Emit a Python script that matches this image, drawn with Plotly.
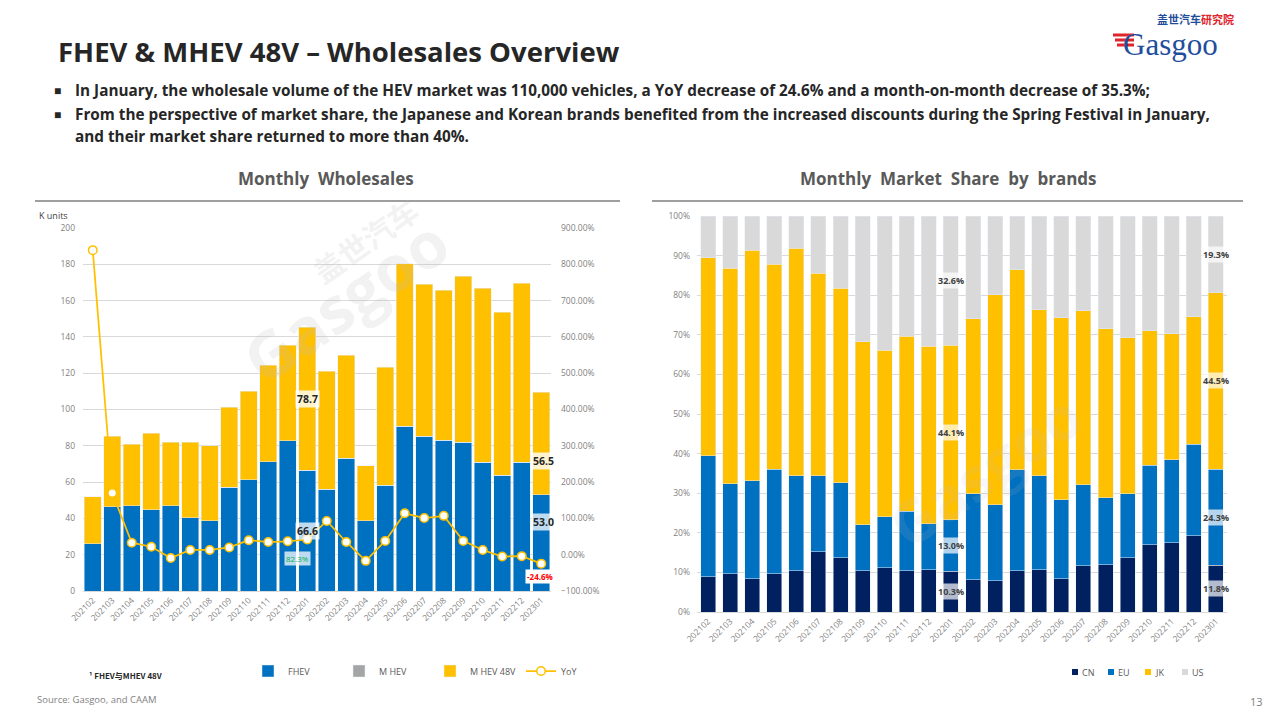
import plotly.graph_objects as go

W, H = 1280, 720
def X(px): return px / W
def Y(py): return 1 - py / H

months = ["202102","202103","202104","202105","202106","202107","202108","202109","202110","202111","202112",
          "202201","202202","202203","202204","202205","202206","202207","202208","202209","202210","202211","202212","202301"]

# Monthly wholesales (K units)
fhev = [26.0, 46.3, 46.9, 44.7, 46.9, 40.3, 38.6, 57.3, 61.2, 71.2, 82.7,
        66.6, 56.2, 73.2, 38.6, 58.4, 90.8, 85.3, 83.1, 82.0, 71.0, 63.9, 71.0, 53.0]
mhev = [0] * len(months)
mhev48 = [25.8, 39.0, 34.0, 42.3, 35.1, 41.7, 41.3, 44.0, 48.9, 53.2, 52.7,
          78.7, 64.9, 56.7, 30.3, 64.9, 89.4, 83.6, 82.5, 91.3, 95.7, 89.7, 98.5, 56.5]
yoy = [839, 170, 33, 22, -9, 13, 13, 20, 40, 35, 37,
       42, 93, 35, -17, 38, 114, 101, 107, 38, 13, -5, -4, -24.6]

# Market share by brands (%)
cn = [8.9, 9.7, 8.4, 9.7, 10.4, 15.2, 13.7, 10.4, 11.2, 10.4, 10.7,
      10.3, 8.2, 7.9, 10.4, 10.7, 8.4, 11.7, 11.9, 13.7, 17.0, 17.5, 19.2, 11.8]
eu = [30.5, 22.7, 24.7, 26.4, 24.0, 19.2, 18.9, 11.6, 12.8, 15.1, 11.6,
      13.0, 21.6, 19.2, 25.5, 23.7, 19.9, 20.4, 16.9, 16.1, 20.1, 20.9, 23.2, 24.3]
jk = [50.1, 54.4, 58.2, 51.7, 57.4, 51.1, 49.1, 46.3, 42.1, 44.1, 44.8,
      44.1, 44.3, 53.0, 50.5, 41.9, 46.0, 44.0, 42.7, 39.5, 33.9, 31.9, 32.2, 44.5]
us = [10.5, 13.2, 8.7, 12.2, 8.2, 14.5, 18.3, 31.7, 33.9, 30.4, 32.9,
      32.6, 25.9, 19.9, 13.6, 23.7, 25.7, 23.9, 28.5, 30.7, 29.0, 29.7, 25.4, 19.3]

idx = list(range(len(months)))

FONT = "Open Sans"
BLUE = "#0070C0"; YEL = "#FFC000"; GRAY = "#A5A5A5"; NAVY = "#002060"; LGRAY = "#D9D9D9"
TICK = "#7F7F7F"

fig = go.Figure()
fig.add_trace(go.Bar(x=idx, y=fhev, name="FHEV", marker_color=BLUE, xaxis="x", yaxis="y"))
fig.add_trace(go.Bar(x=idx, y=mhev, name="M HEV", marker_color=GRAY, xaxis="x", yaxis="y"))
fig.add_trace(go.Bar(x=idx, y=mhev48, name="M HEV 48V", marker_color=YEL, xaxis="x", yaxis="y"))
fig.add_trace(go.Scatter(x=idx, y=yoy, name="YoY", mode="lines+markers", xaxis="x", yaxis="y2",
                         line=dict(color=YEL, width=1.75),
                         marker=dict(size=8.5, color="white", line=dict(color=YEL, width=1.5))))

right_series = [("CN", cn, NAVY), ("EU", eu, BLUE), ("JK", jk, YEL), ("US", us, LGRAY)]
for name, vals, col in right_series:
    fig.add_trace(go.Bar(x=idx, y=vals, name=name, marker_color=col, width=0.68,
                         xaxis="x2", yaxis="y3", showlegend=False))

axfont = dict(family=FONT, size=8.5, color=TICK)
fig.update_layout(
    width=W, height=H, margin=dict(l=0, r=0, t=0, b=0), autosize=False,
    paper_bgcolor="white", plot_bgcolor="white", barmode="stack",
    font=dict(family=FONT, color="#404040"),
    xaxis=dict(domain=[X(83), X(551)], range=[-0.5, 23.5], tickmode="array", tickvals=idx, ticktext=months,
               tickangle=-45, tickfont=axfont, showgrid=False, showline=True, linecolor="#D9D9D9",
               ticks="", zeroline=False, anchor="y", automargin=False),
    yaxis=dict(domain=[Y(591), Y(228)], range=[0, 200], dtick=20, tickfont=axfont, ticklabelstandoff=7,
               gridcolor="#D9D9D9", zeroline=False, showline=False, ticks="", anchor="x", automargin=False),
    yaxis2=dict(overlaying="y", side="right", range=[-100, 900], dtick=100, tickformat=".2f", ticksuffix="%",
                tickfont=axfont, ticklabelstandoff=9, showgrid=False, zeroline=False, ticks="", anchor="x",
                automargin=False),
    xaxis2=dict(domain=[X(697), X(1227)], range=[-0.5, 23.5], tickmode="array", tickvals=idx, ticktext=months,
                tickangle=-45, tickfont=axfont, showgrid=False, showline=True, linecolor="#D9D9D9",
                ticks="", zeroline=False, anchor="y3", automargin=False),
    yaxis3=dict(domain=[Y(612), Y(216)], range=[0, 100], dtick=10, ticksuffix="%", tickfont=axfont,
                ticklabelstandoff=6, gridcolor="#D9D9D9", zeroline=False, ticks="", anchor="x2", automargin=False),
    bargap=0.15,
    legend=dict(orientation="h", x=X(248), y=Y(671), xanchor="left", yanchor="middle", traceorder="normal",
                font=dict(family=FONT, size=9, color="#595959"), itemwidth=30, entrywidth=46,
                entrywidthmode="pixels", bgcolor="rgba(0,0,0,0)"),
    showlegend=True,
)

anns = []
def txt(px, py, s, size, color="#262626", bold=False, xanchor="left", family=FONT, angle=0):
    anns.append(dict(xref="paper", yref="paper", x=X(px), y=Y(py), text=("<b>%s</b>" % s) if bold else s,
                     showarrow=False, xanchor=xanchor, yanchor="middle", textangle=angle,
                     font=dict(family=family, size=size, color=color)))

# Title & bullets
txt(56, 52, "FHEV & MHEV 48V – Wholesales Overview", 27.5, "#262626", True)
txt(52, 90, "■", 12, "#262626")
txt(52, 114, "■", 12, "#262626")
txt(73, 90, "In January, the wholesale volume of the HEV market was 110,000 vehicles, a YoY decrease of 24.6% and a month-on-month decrease of 35.3%;", 15.3, "#262626", True)
txt(73, 114, "From the perspective of market share, the Japanese and Korean brands benefited from the increased discounts during the Spring Festival in January,", 15.3, "#262626", True)
txt(73, 136, "and their market share returned to more than 40%.", 15.3, "#262626", True)

txt(326, 178, "Monthly  Wholesales", 17, "#595959", True, "center")
txt(948, 178, "Monthly  Market  Share  by  brands", 17, "#595959", True, "center")
txt(37, 215, "K units", 9, "#404040")
txt(87, 675, "¹ FHEV与MHEV 48V", 8, "#262626", True, family="Noto Sans CJK SC")
txt(35, 699, "Source: Gasgoo, and CAAM", 9.5, "#7F7F7F")
txt(1248, 701, "13", 11, "#7F7F7F")

# Right chart legend (compact, as in reference)
leg_x = [1072, 1108, 1145, 1182]
shapes = []
for (name, vals, col), lx in zip(right_series, leg_x):
    shapes.append(dict(type="rect", xref="paper", yref="paper", x0=X(lx), x1=X(lx + 6), y0=Y(675), y1=Y(669),
                       fillcolor=col, line=dict(width=0)))
    txt(lx + 8, 672, name, 9, "#595959")

# Logo
txt(1155, 19, "<span style='color:#1F4E9C'>盖世汽车</span><span style='color:#E0242B'>研究院</span>",
    11, "#1F4E9C", True, family="Noto Sans CJK SC")
txt(1121, 44, "Gasgoo", 31, "#1F4E9C", False, family="Liberation Serif")

# Watermarks
txt(345, 300, "Gasgoo", 64, "rgba(190,190,190,0.2)", True, "center", angle=-35)
txt(365, 240, "盖世汽车", 30, "rgba(190,190,190,0.2)", True, "center", family="Noto Sans CJK SC", angle=-35)
txt(985, 470, "Gasgoo", 60, "rgba(190,190,190,0.12)", True, "center", angle=-35)

# data labels - left chart
lab = dict(family=FONT, size=10.5, color="#262626")
i = months.index("202201")
anns.append(dict(xref="x", yref="y", x=i, y=fhev[i] + mhev48[i] / 2, text="<b>%.1f</b>" % mhev48[i],
                 showarrow=False, bgcolor="rgba(255,255,255,0.8)", font=lab))
anns.append(dict(xref="x", yref="y", x=i, y=fhev[i] / 2, text="<b>%.1f</b>" % fhev[i],
                 showarrow=False, bgcolor="rgba(255,255,255,0.75)", font=lab))
anns.append(dict(xref="x", yref="y2", x=i, y=yoy[i], text="82.3%", showarrow=False, xshift=-10, yshift=-19,
                 bgcolor="rgba(255,255,255,0.75)", font=dict(family=FONT, size=8, color="#00B050")))
j = months.index("202301")
anns.append(dict(xref="x", yref="y", x=j, y=fhev[j] + mhev48[j] / 2, text="<b>%.1f</b>" % mhev48[j],
                 showarrow=False, yshift=-17, xshift=2, bgcolor="rgba(255,255,255,0.8)", font=lab))
anns.append(dict(xref="x", yref="y", x=j, y=fhev[j] / 2, text="<b>%.1f</b>" % fhev[j],
                 showarrow=False, yshift=21, xshift=2, bgcolor="rgba(255,255,255,0.75)", font=lab))
anns.append(dict(xref="x", yref="y2", x=j, y=yoy[j], text="<b>%.1f%%</b>" % yoy[j], showarrow=False,
                 yshift=-13, xshift=-1, bgcolor="white", font=dict(family=FONT, size=8, color="#FF0000")))

# data labels - right chart (segment centres)
rl = dict(family=FONT, size=9, color="#404040")
for k in (i, j):
    base = 0
    for v in (cn[k], eu[k], jk[k], us[k]):
        anns.append(dict(xref="x2", yref="y3", x=k, y=base + v / 2, text="<b>%.1f%%</b>" % v,
                         showarrow=False, bgcolor="rgba(255,255,255,0.7)", font=rl))
        base += v

fig.update_layout(annotations=anns)

shapes += [
    dict(type="line", xref="paper", yref="paper", x0=X(35), x1=X(620), y0=Y(201), y1=Y(201), line=dict(color="#7F7F7F", width=1.5)),
    dict(type="line", xref="paper", yref="paper", x0=X(652), x1=X(1243), y0=Y(201), y1=Y(201), line=dict(color="#7F7F7F", width=1.5)),
]
for k, py in enumerate([35, 40, 45]):
    shapes.append(dict(type="line", xref="paper", yref="paper", x0=X(1113 + k * 2), x1=X(1134), y0=Y(py), y1=Y(py),
                       line=dict(color="#E0242B", width=3)))
fig.update_layout(shapes=shapes)

fig.write_html("out.html", config={"displayModeBar": False}, post_script="document.body.style.margin='0';")
